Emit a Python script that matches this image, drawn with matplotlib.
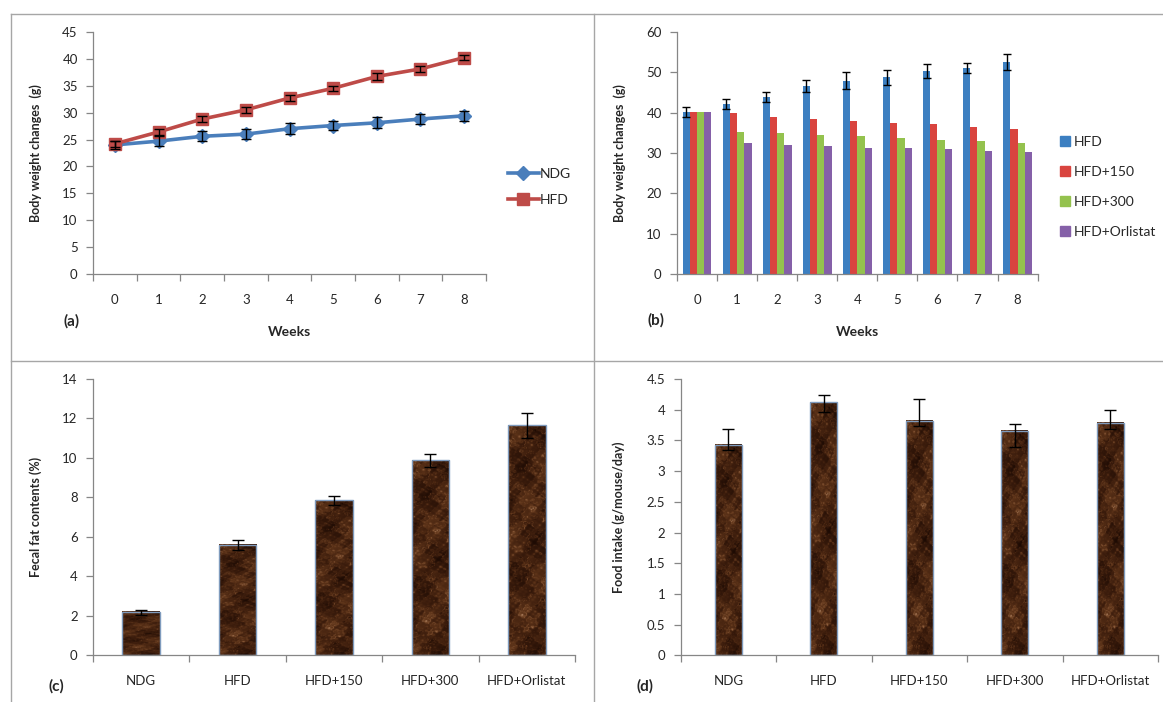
import numpy as np
import matplotlib.pyplot as plt
from matplotlib.lines import Line2D
from matplotlib.patches import Patch
from matplotlib.colors import LinearSegmentedColormap

plt.rcParams['font.family'] = ['Lato', 'DejaVu Sans']

W, H = 1163, 702

# (a) body weight, line chart
weeks = list(range(9))
ndg_bw = [24.0, 24.7, 25.6, 26.0, 27.0, 27.6, 28.1, 28.8, 29.4]
ndg_bw_err = [0.7, 0.9, 0.9, 0.9, 1.0, 0.9, 1.0, 0.9, 0.9]
hfd_bw = [24.2, 26.4, 28.8, 30.5, 32.7, 34.5, 36.7, 38.1, 40.2]
hfd_bw_err = [0.5, 0.5, 0.5, 0.5, 0.6, 0.5, 0.6, 0.6, 0.5]

# (b) body weight, grouped bars
b_hfd = [40.2, 42.1, 43.9, 46.6, 47.9, 48.7, 50.3, 51.1, 52.6]
b_hfd_err = [1.3, 1.2, 1.2, 1.5, 2.1, 1.9, 1.7, 1.2, 2.0]
b_hfd150 = [40.2, 39.8, 39.0, 38.3, 38.0, 37.3, 37.1, 36.5, 35.9]
b_hfd300 = [40.2, 35.3, 35.0, 34.5, 34.1, 33.6, 33.2, 32.9, 32.4]
b_orlistat = [40.2, 32.4, 32.1, 31.7, 31.2, 31.2, 30.9, 30.6, 30.3]

# (c) fecal fat, (d) food intake
groups = ['NDG', 'HFD', 'HFD+150', 'HFD+300', 'HFD+Orlistat']
fecal_fat = [2.18, 5.59, 7.85, 9.88, 11.65]
fecal_fat_err = [0.12, 0.25, 0.24, 0.32, 0.65]
food_intake = [3.43, 4.12, 3.82, 3.65, 3.78]
food_err_lo = [0.09, 0.15, 0.08, 0.25, 0.09]
food_err_hi = [0.26, 0.12, 0.36, 0.12, 0.22]

GRAY = '#868686'
TXT = '#262626'

fig = plt.figure(figsize=(W / 100, H / 100), dpi=100)


def rect(x0, x1, ytop, ybot):
    return [x0 / W, 1 - ybot / H, (x1 - x0) / W, (ybot - ytop) / H]


def excel_axes(r, ncat, ymax, yticks, ylabel):
    ax = fig.add_axes(r)
    for s in ['top', 'right']:
        ax.spines[s].set_visible(False)
    for s in ['left', 'bottom']:
        ax.spines[s].set_color(GRAY)
        ax.spines[s].set_linewidth(0.9)
    ax.set_xlim(-0.5, ncat - 0.5)
    ax.set_ylim(0, ymax)
    ax.set_yticks(yticks)
    ax.set_xticks(range(ncat))
    ax.set_xticks(np.arange(ncat + 1) - 0.5, minor=True)
    ax.tick_params(axis='x', which='major', length=0, pad=14, labelsize=9.5, labelcolor=TXT)
    ax.tick_params(axis='x', which='minor', length=5, color=GRAY, width=0.9)
    ax.tick_params(axis='y', length=5, color=GRAY, width=0.9, pad=6, labelsize=9.5, labelcolor=TXT)
    ax.set_ylabel(ylabel, fontsize=9, fontweight='bold', color=TXT)
    return ax


# panel borders
for (x0, y0, x1, y1) in [(11, 14, W, 14), (11, 14, 11, H), (594, 14, 594, H), (11, 361, W, 361)]:
    fig.add_artist(Line2D([x0 / W, x1 / W], [1 - y0 / H, 1 - y1 / H],
                          transform=fig.transFigure, color='#a6a6a6', lw=1))

# ---- (a)
ax = excel_axes(rect(93, 486, 31.7, 274.3), 9, 45, range(0, 46, 5), 'Body weight changes  (g)')
ax.yaxis.set_label_coords((42 - 93) / 393, 0.5)
ax.set_xticklabels([str(w) for w in weeks])
ax.plot(weeks, ndg_bw, color='#4A7EBB', lw=2.6, marker='D', ms=7, zorder=3)
ax.plot(weeks, hfd_bw, color='#BE4B48', lw=2.6, marker='s', ms=8, zorder=3)
ax.errorbar(weeks, ndg_bw, yerr=ndg_bw_err, fmt='none', ecolor='black', elinewidth=1, capsize=3.5, zorder=4)
ax.errorbar(weeks, hfd_bw, yerr=hfd_bw_err, fmt='none', ecolor='black', elinewidth=1, capsize=3.5, zorder=4)
ax.text(0.5, -0.237, 'Weeks', transform=ax.transAxes, ha='center', va='center',
        fontsize=10, fontweight='bold', color=TXT)
ax.text(-0.055, -0.195, '(a)', transform=ax.transAxes, ha='center', va='center',
        fontsize=11, fontweight='bold', color=TXT)
hand = [Line2D([], [], color='#4A7EBB', lw=2.6, marker='D', ms=7),
        Line2D([], [], color='#BE4B48', lw=2.6, marker='s', ms=8)]
fig.legend(hand, ['NDG', 'HFD'], loc='center left', bbox_to_anchor=(508 / W, 1 - 187.3 / H),
           frameon=False, fontsize=10, handlelength=2.2, handletextpad=0.1, labelspacing=1.0,
           borderpad=0, borderaxespad=0, labelcolor=TXT)

# ---- (b)
ax = excel_axes(rect(677, 1037.6, 31.7, 274.3), 9, 60, range(0, 61, 10), 'Body weight changes  (g)')
ax.yaxis.set_label_coords((626.5 - 677) / 360.6, 0.5)
ax.set_xticklabels([str(w) for w in weeks])
bw = 0.18
series = [('HFD', b_hfd, '#3C7FC1'), ('HFD+150', b_hfd150, '#D9443F'),
          ('HFD+300', b_hfd300, '#94C24E'), ('HFD+Orlistat', b_orlistat, '#8560A8')]
x = np.arange(9)
for i, (name, vals, col) in enumerate(series):
    ax.bar(x + (i - 1.5) * bw, vals, bw, color=col, zorder=2, label=name)
ax.errorbar(x - 1.5 * bw, b_hfd, yerr=b_hfd_err, fmt='none', ecolor='black', elinewidth=1, capsize=3, zorder=4)
ax.text(0.5, -0.237, 'Weeks', transform=ax.transAxes, ha='center', va='center',
        fontsize=10, fontweight='bold', color=TXT)
ax.text(-0.058, -0.19, '(b)', transform=ax.transAxes, ha='center', va='center',
        fontsize=11, fontweight='bold', color=TXT)
hand = [Patch(color=c) for _, _, c in series]
fig.legend(hand, [s[0] for s in series], loc='center left', bbox_to_anchor=(1060 / W, 1 - 186.7 / H),
           frameon=False, fontsize=10, handlelength=0.7, handleheight=0.7, handletextpad=0.3,
           labelspacing=1.3, borderpad=0, borderaxespad=0, labelcolor=TXT)

# brown marble-like texture for (c) and (d)
yy, xx = np.mgrid[0:280, 0:40].astype(float)
cloud = (np.sin(xx * 0.11 + yy * 0.05 + 0.7) + 0.8 * np.sin(yy * 0.09 - xx * 0.13 + 2.1)
         + 0.6 * np.sin(xx * 0.31 + yy * 0.23 + 1.3) + 0.4 * np.sin(yy * 0.41 - xx * 0.37 + 0.4)
         + 0.3 * np.sin(xx * 0.9 + yy * 0.7) + 0.25 * np.sin(yy * 1.1 - xx * 0.8 + 1.7))
veins = np.exp(-6 * np.abs(np.sin(0.12 * xx + 0.06 * yy + 1.6 * cloud)))
veins2 = np.exp(-7 * np.abs(np.sin(0.05 * xx - 0.14 * yy + 1.2 * cloud + 0.9)))
tex = 0.55 * (cloud - cloud.min()) / np.ptp(cloud) + 0.35 * veins + 0.25 * veins2
tex = (tex - tex.min()) / np.ptp(tex)
brown = LinearSegmentedColormap.from_list('brown', ['#1c0a03', '#3b1c0c', '#5e3419', '#8a5a38', '#b99274'])


def textured_bars(ax, vals, width):
    for i, v in enumerate(vals):
        ax.imshow(tex, cmap=brown, extent=(i - width / 2, i + width / 2, 0, v),
                  aspect='auto', zorder=2, interpolation='bilinear')
    ax.bar(range(len(vals)), vals, width, facecolor='none', edgecolor='#7f9bbd', lw=1, zorder=3)


# ---- (c)
ax = excel_axes(rect(93, 575, 379, 655.3), 5, 14, range(0, 15, 2), 'Fecal fat contents (%)')
ax.yaxis.set_label_coords((42 - 93) / 482, 0.5)
textured_bars(ax, fecal_fat, 0.39)
ax.errorbar(range(5), fecal_fat, yerr=fecal_fat_err, fmt='none', ecolor='black', elinewidth=1, capsize=4, zorder=4)
ax.set_xticklabels(groups)
ax.set_xlim(-0.5, 4.5)
ax.set_ylim(0, 14)
ax.text(-0.076, -0.114, '(c)', transform=ax.transAxes, ha='center', va='center',
        fontsize=11, fontweight='bold', color=TXT)

# ---- (d)
ax = excel_axes(rect(680.6, 1158, 379, 655.3), 5, 4.5, np.arange(0, 4.6, 0.5), 'Food intake (g/mouse/day)')
ax.set_yticklabels(['0', '0.5', '1', '1.5', '2', '2.5', '3', '3.5', '4', '4.5'])
ax.yaxis.set_label_coords((625.4 - 680.6) / 477.4, 0.5)
textured_bars(ax, food_intake, 0.28)
ax.errorbar(range(5), food_intake, yerr=[food_err_lo, food_err_hi], fmt='none', ecolor='black',
            elinewidth=1, capsize=4, zorder=4)
ax.set_xticklabels(groups)
ax.set_xlim(-0.5, 4.5)
ax.set_ylim(0, 4.5)
ax.text(-0.075, -0.114, '(d)', transform=ax.transAxes, ha='center', va='center',
        fontsize=11, fontweight='bold', color=TXT)

fig.savefig('out.png', dpi=100)
